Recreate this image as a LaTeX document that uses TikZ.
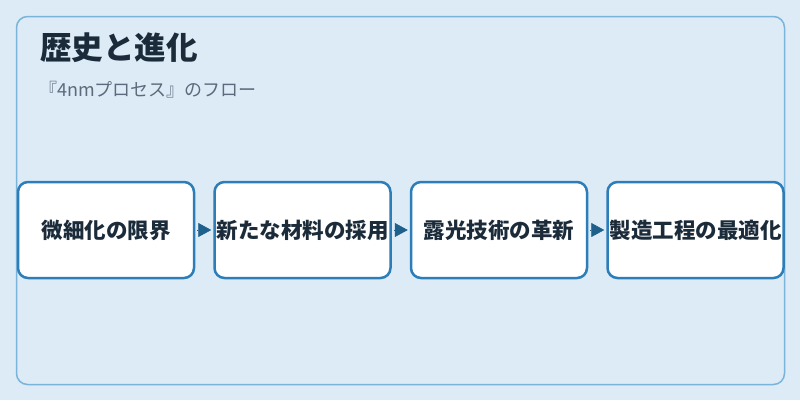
\documentclass[tikz,border=0pt]{standalone}
\usepackage{fontspec}
\setmainfont{Noto Sans CJK JP}
\usetikzlibrary{%
    arrows.meta,
    positioning
}
\definecolor{pagebg}{HTML}{DCEBF6}
\definecolor{frameline}{HTML}{7AB4DA}
\definecolor{boxline}{HTML}{2C7DB8}
\definecolor{arrowfill}{HTML}{1F5F8C}
\definecolor{inktext}{HTML}{1B2B3A}
\definecolor{subtext}{HTML}{5B6B7B}
\tikzset{flowarrow/.style = {-{Triangle[length=13pt,width=14pt]},
    draw=arrowfill, fill=arrowfill, line width=0.6pt,
    shorten <=2pt, shorten >=2pt}}

\begin{document}
\begin{tikzpicture}[
    x=1pt, y=-1pt,
    stagebox/.style = {draw=boxline, line width=2.5pt, fill=white,
        rounded corners=10pt, minimum width=176pt, minimum height=96pt,
        inner sep=0pt, outer sep=1.25pt, text=inktext,
        font=\fontsize{21.5}{24}\selectfont\bfseries}]
    \useasboundingbox (0,0) rectangle (800,400);
    \fill[pagebg] (0,0) rectangle (800,400);
    \draw[frameline, line width=1.5pt, rounded corners=11pt]
        (16.5,16.5) rectangle (784.5,384.5);

    \node[anchor=base west, inner sep=0pt, text=inktext,
        font=\fontsize{31.5}{36}\selectfont\bfseries] (title) at (40,59) {歴史と進化};
    \node[anchor=base west, inner sep=0pt, text=subtext,
        font=\fontsize{18}{21}\selectfont] (subtitle) at (39,96) {『4nmプロセス』のフロー};

    \node[stagebox] (limit) at (106,230) {微細化の限界};
    \node[stagebox] (material) [right=18pt of limit] {新たな材料の採用};
    \node[stagebox] (litho) [right=18pt of material] {露光技術の革新};
    \node[stagebox] (process) [right=18pt of litho] {製造工程の最適化};

    \draw[flowarrow] (limit.east) -- (material.west);
    \draw[flowarrow] (material.east) -- (litho.west);
    \draw[flowarrow] (litho.east) -- (process.west);
\end{tikzpicture}
\end{document}
